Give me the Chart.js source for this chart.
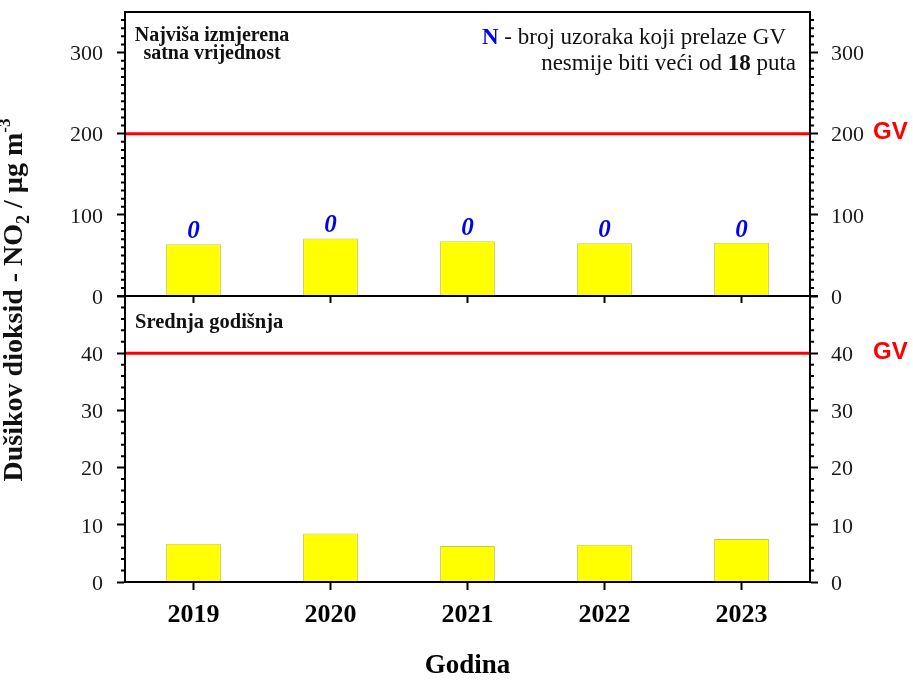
<!DOCTYPE html>
<html>
<head>
<meta charset="utf-8">
<script src="https://cdn.jsdelivr.net/npm/chart.js@4.4.1/dist/chart.umd.min.js"></script>
<style>
  html, body { margin: 0; padding: 0; background: #fff; }
  #wrap { width: 913px; height: 680px; }
</style>
</head>
<body>
<div id="wrap"><canvas id="no2-chart"></canvas></div>
<script>
const years = ['2019', '2020', '2021', '2022', '2023'];
const maxHourly = [63.7, 71.0, 67.4, 64.9, 65.6];   // najviša satna vrijednost
const annualMean = [6.7, 8.5, 6.3, 6.5, 7.5];       // srednja godišnja
const exceedances = [0, 0, 0, 0, 0];                // N - broj prekoračenja GV
const hourlyLimit = 200;
const annualLimit = 40;
const hourlyTicks = [0, 100, 200, 300];
const annualTicks = [0, 10, 20, 30, 40];
const hourlyMax = 350;
const annualMax = 50;

const SERIF = "'Liberation Serif', 'Times New Roman', serif";
const SANS = "'Liberation Sans', Arial, sans-serif";

Chart.defaults.font.family = SERIF;
Chart.defaults.color = '#111';

function yAxis(position, ticks, max, stack, weight, stackWeight) {
    return {
        type: 'linear',
        position: position,
        stack: stack,
        stackWeight: stackWeight,
        weight: weight,
        min: 0,
        max: max,
        afterBuildTicks: (s) => { s.ticks = ticks.map(v => ({ value: v })); },
        afterFit: (s) => {
            s.width = position === 'left' ? 125 : 103;
            s.paddingTop = 0;
            s.paddingBottom = 0;
        },
        border: { display: true, color: '#000', width: 2 },
        grid: { drawOnChartArea: false, tickLength: 8, tickWidth: 2, tickColor: '#000' },
        ticks: {
            font: { size: 22 },
            color: '#1a1a1a',
            padding: position === 'left' ? 14 : 13,
            labelOffset: 2
        }
    };
}

// frame, middle axis, minor ticks, limit lines and annotations
const decorPlugin = {
    id: 'decor',
    afterDatasetsDraw(chart) {
        const { ctx, chartArea, scales } = chart;
        ctx.save();
        ctx.strokeStyle = '#ff0000';
        ctx.lineWidth = 3;
        [[scales.yTop, hourlyLimit], [scales.yBot, annualLimit]].forEach(([s, v]) => {
            const y = s.getPixelForValue(v);
            ctx.beginPath();
            ctx.moveTo(chartArea.left, y);
            ctx.lineTo(chartArea.right, y);
            ctx.stroke();
        });

        // N labels above hourly bars
        const meta = chart.getDatasetMeta(0);
        ctx.fillStyle = '#0000ee';
        ctx.font = `bold italic 25px ${SERIF}`;
        ctx.textAlign = 'center';
        ctx.textBaseline = 'alphabetic';
        meta.data.forEach((bar, i) => {
            ctx.fillText(String(exceedances[i]), bar.x, bar.y - 6);
        });
        ctx.restore();
    },
    afterDraw(chart) {
        const { ctx, chartArea, scales } = chart;
        const { left, right, top, bottom } = chartArea;
        const mid = scales.yTop.bottom;
        ctx.save();
        ctx.strokeStyle = '#000';
        ctx.lineWidth = 2;
        ctx.strokeRect(left, top, right - left, bottom - top);
        ctx.beginPath();
        ctx.moveTo(left - 8, mid);
        ctx.lineTo(right + 8, mid);
        ctx.stroke();

        // category ticks under the upper panel
        years.forEach((_, i) => {
            const x = scales.x.getPixelForValue(i);
            ctx.beginPath();
            ctx.moveTo(x, mid);
            ctx.lineTo(x, mid + 7);
            ctx.stroke();
        });

        // minor ticks on both vertical axes
        [[scales.yTop, hourlyMax, 10, 100], [scales.yBot, annualMax, 2, 10]].forEach(([s, max, step, major]) => {
            for (let v = step; v < max; v += step) {
                if (v % major === 0) continue;
                const y = s.getPixelForValue(v);
                ctx.beginPath();
                ctx.moveTo(left - 4, y); ctx.lineTo(left, y);
                ctx.moveTo(right, y); ctx.lineTo(right + 4, y);
                ctx.stroke();
            }
        });

        // GV labels right of the axis
        ctx.fillStyle = '#ff0000';
        ctx.font = `bold 24px ${SANS}`;
        ctx.textAlign = 'left';
        ctx.textBaseline = 'middle';
        ctx.fillText('GV', 873, scales.yTop.getPixelForValue(hourlyLimit) - 1);
        ctx.fillText('GV', 873, scales.yBot.getPixelForValue(annualLimit) - 1);

        // panel titles
        ctx.fillStyle = '#111';
        ctx.textBaseline = 'alphabetic';
        ctx.font = `bold 20px ${SERIF}`;
        ctx.textAlign = 'center';
        ctx.fillText('Najviša izmjerena', 212, 41);
        ctx.fillText('satna vrijednost', 212, 59);
        ctx.textAlign = 'left';
        ctx.font = `bold 20.5px ${SERIF}`;
        ctx.fillText('Srednja godišnja', 135, 328);

        // note about allowed exceedances, mixed fonts
        const drawRuns = (runs, xRight, y) => {
            let w = 0;
            runs.forEach(r => { ctx.font = r.font; w += ctx.measureText(r.text).width; });
            let x = xRight - w;
            runs.forEach(r => {
                ctx.font = r.font;
                ctx.fillStyle = r.color;
                ctx.fillText(r.text, x, y);
                x += ctx.measureText(r.text).width;
            });
        };
        const reg = `23px ${SERIF}`;
        const bold = `bold 23px ${SERIF}`;
        drawRuns([
            { text: 'N', font: bold, color: '#0000ee' },
            { text: ' - broj uzoraka koji prelaze GV', font: reg, color: '#111' }
        ], 786, 44);
        drawRuns([
            { text: 'nesmije biti veći od ', font: reg, color: '#111' },
            { text: '18', font: bold, color: '#111' },
            { text: ' puta', font: reg, color: '#111' }
        ], 796, 70);

        // rotated y axis title with sub/superscript
        const parts = [
            { text: 'Dušikov dioksid - NO', size: 28, dy: 0 },
            { text: '2', size: 18, dy: 7 },
            { text: ' / µg m', size: 28, dy: 0 },
            { text: '-3', size: 17, dy: -12 }
        ];
        let total = 0;
        parts.forEach(p => { ctx.font = `bold ${p.size}px ${SERIF}`; total += ctx.measureText(p.text).width; });
        ctx.translate(22, 300);
        ctx.rotate(-Math.PI / 2);
        ctx.fillStyle = '#111';
        let px = -total / 2;
        parts.forEach(p => {
            ctx.font = `bold ${p.size}px ${SERIF}`;
            ctx.fillText(p.text, px, p.dy);
            px += ctx.measureText(p.text).width;
        });
        ctx.restore();
    }
};

new Chart(document.getElementById('no2-chart'), {
    type: 'bar',
    data: {
        labels: years,
        datasets: [{
            label: 'Najviša satna vrijednost',
            data: maxHourly,
            yAxisID: 'yTop',
            backgroundColor: '#ffff00',
            borderColor: '#c8c84a',
            borderWidth: 1,
            grouped: false,
            categoryPercentage: 1,
            barPercentage: 0.4
        }, {
            label: 'Srednja godišnja',
            data: annualMean,
            yAxisID: 'yBot',
            backgroundColor: '#ffff00',
            borderColor: '#c8c84a',
            borderWidth: 1,
            grouped: false,
            categoryPercentage: 1,
            barPercentage: 0.4
        }]
    },
    options: {
        responsive: true,
        maintainAspectRatio: false,
        animation: false,
        layout: { padding: { top: 12, left: 0, right: 0, bottom: 0 } },
        plugins: { legend: { display: false }, tooltip: { enabled: false } },
        scales: {
            x: {
                type: 'category',
                position: 'bottom',
                afterFit: (s) => { s.height = 98; },
                border: { display: true, color: '#000', width: 2 },
                grid: { offset: false, drawOnChartArea: false, tickLength: 8, tickWidth: 2, tickColor: '#000' },
                ticks: { font: { size: 26, weight: 'bold' }, color: '#000', padding: 10 },
                title: {
                    display: true,
                    text: 'Godina',
                    font: { size: 27, weight: 'bold', lineHeight: 1 },
                    color: '#000',
                    padding: { top: 0, bottom: 0 }
                }
            },
            yTop: yAxis('left', hourlyTicks, hourlyMax, 'left', 2, 284),
            yBot: yAxis('left', annualTicks, annualMax, 'left', 1, 286),
            yTopR: yAxis('right', hourlyTicks, hourlyMax, 'right', 1, 284),
            yBotR: yAxis('right', annualTicks, annualMax, 'right', 2, 286)
        }
    },
    plugins: [decorPlugin]
});
</script>
</body>
</html>
